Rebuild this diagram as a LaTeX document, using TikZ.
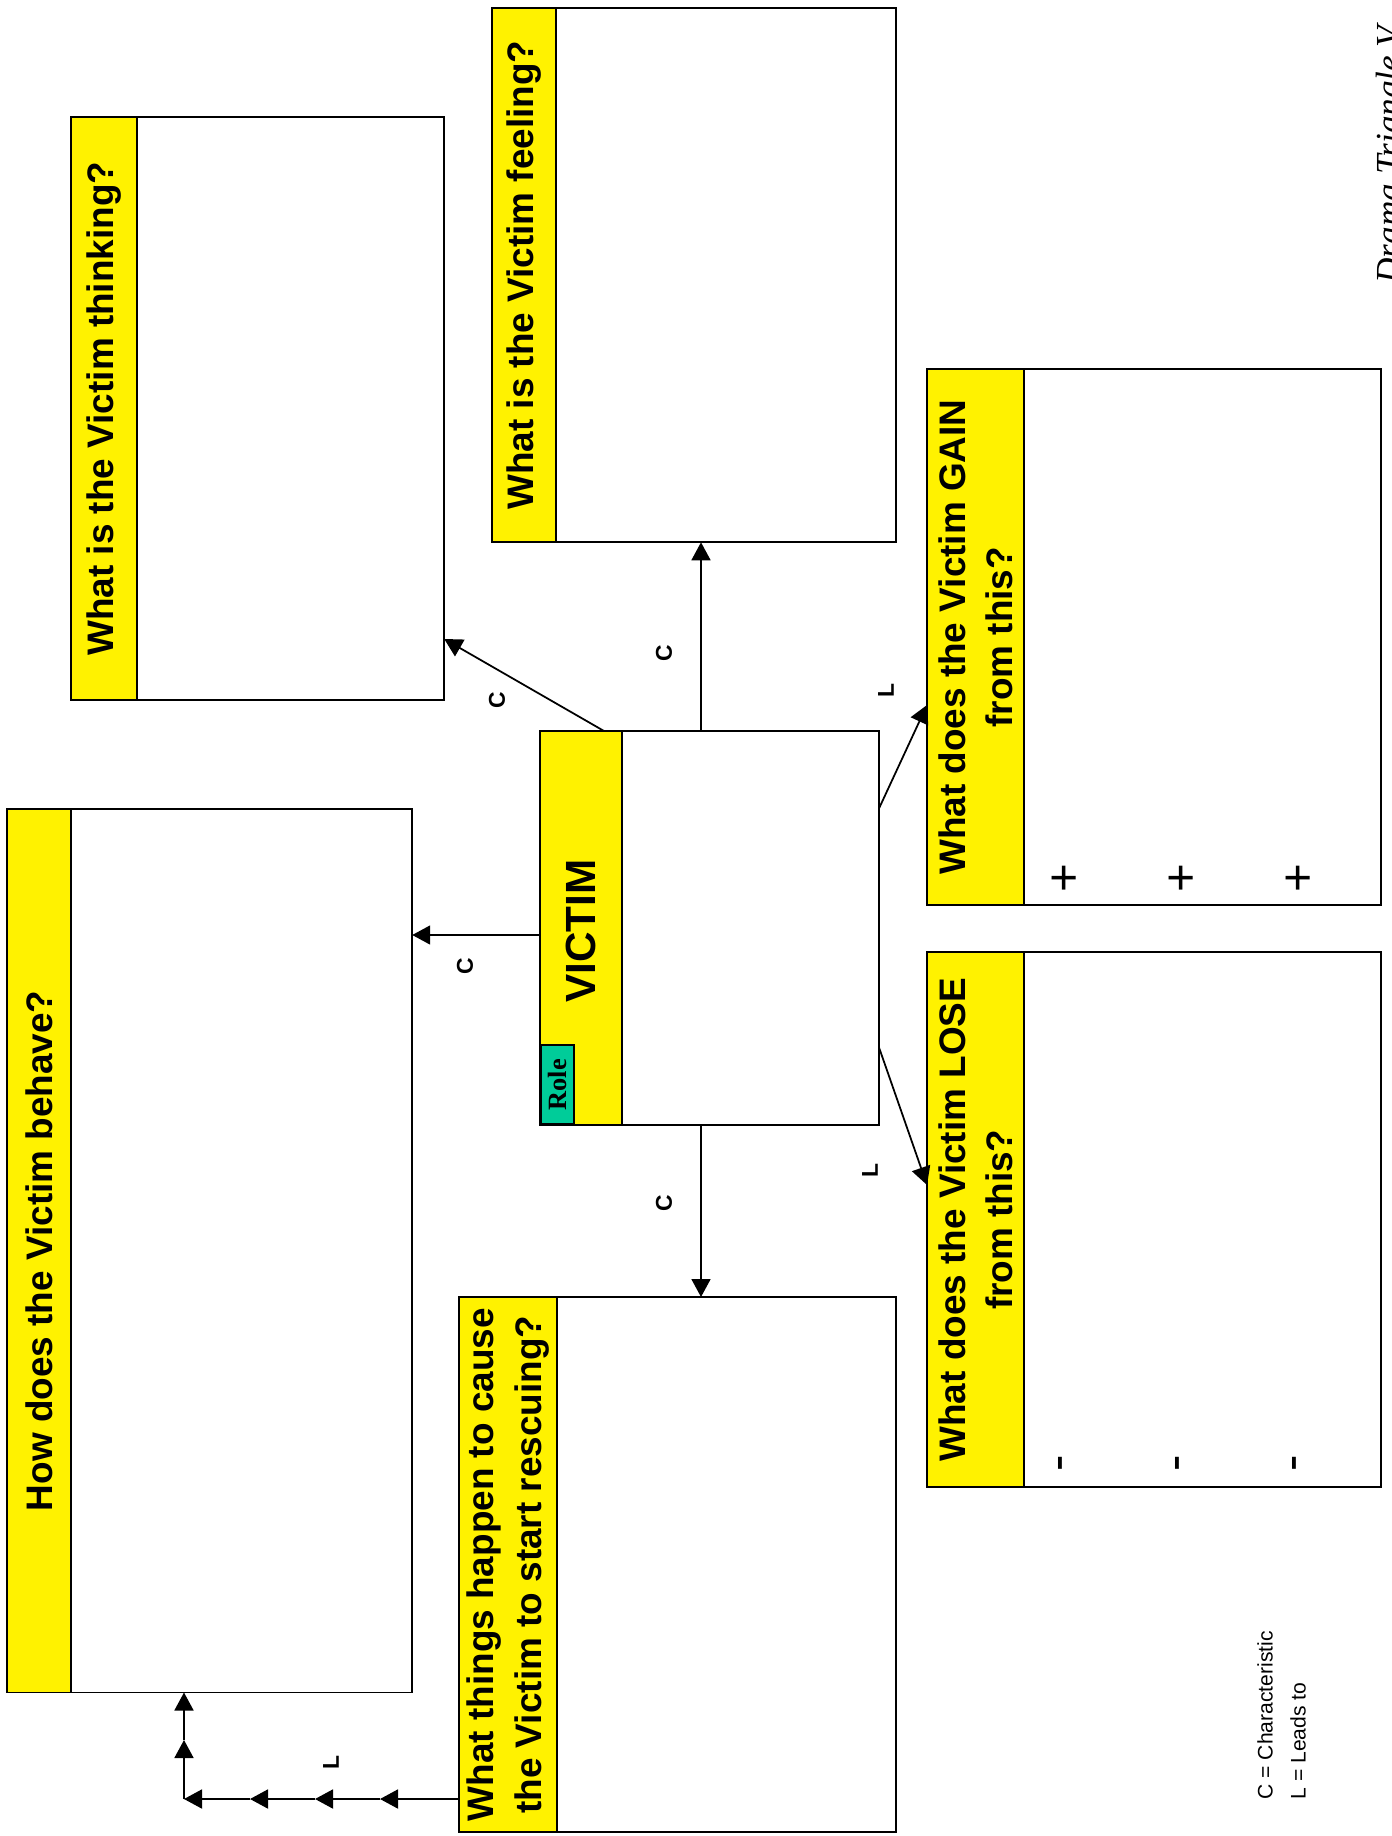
\documentclass[tikz,border=0pt]{standalone}
\usepackage{fontspec}
\setmainfont{Liberation Serif}
\setsansfont{Liberation Sans}
\usetikzlibrary{arrows.meta,calc}

\begin{document}
\begin{tikzpicture}[x=0.01cm, y=-0.01cm, line width=0.5pt,
    box/.style={draw, rectangle, inner sep=0pt, outer sep=0pt, fill=white},
    strip/.style={draw, rectangle, inner sep=0pt, outer sep=0pt, fill=yellow},
    qtext/.style={rotate=90, align=center, font=\sffamily\bfseries\fontsize{10.5}{13.4}\selectfont},
    lbl/.style={rotate=90, font=\sffamily\bfseries\fontsize{6.5}{7}\selectfont},
    sign/.style={rotate=90, font=\sffamily\fontsize{14}{16}\selectfont},
    arr/.style={-{Triangle[length=0.18cm,width=0.19cm]}}]
    \useasboundingbox (0,0) rectangle (1392,1836);
    % header, cut by the page edge
    \node[rotate=90, anchor=base west, font=\itshape\fontsize{10}{12}\selectfont] (head) at (1400,296) {Drama Triangle V};

    % question boxes
    \node[box, minimum width=3.73cm, minimum height=5.83cm, anchor=north west] (think) at (71,117) {};
    \node[strip, minimum width=0.66cm, minimum height=5.83cm, anchor=north west] (thinkS) at (think.north west) {};
    \node[qtext] (thinkQ) at (thinkS.center) {What is the Victim thinking?};

    \node[box, minimum width=4.04cm, minimum height=5.34cm, anchor=north west] (feel) at (492,8) {};
    \node[strip, minimum width=0.64cm, minimum height=5.34cm, anchor=north west] (feelS) at (feel.north west) {};
    \node[qtext] (feelQ) at (feelS.center) {What is the Victim feeling?};

    \node[box, minimum width=4.05cm, minimum height=8.83cm, anchor=north west] (behave) at (7,809) {};
    \node[strip, minimum width=0.64cm, minimum height=8.83cm, anchor=north west] (behaveS) at (behave.north west) {};
    \node[qtext] (behaveQ) at (behaveS.center) {How does the Victim behave?};

    \node[box, minimum width=4.37cm, minimum height=5.35cm, anchor=north west] (rescue) at (459,1297) {};
    \node[strip, minimum width=0.98cm, minimum height=5.35cm, anchor=north west] (rescueS) at (rescue.north west) {};
    \node[qtext] (rescueQ) at (rescueS.center) {What things happen to cause\\the Victim to start rescuing?};

    \node[box, minimum width=4.54cm, minimum height=5.36cm, anchor=north west] (gain) at (927,369) {};
    \node[strip, minimum width=0.97cm, minimum height=5.36cm, anchor=north west] (gainS) at (gain.north west) {};
    \node[qtext] (gainQ) at (gainS.center) {What does the Victim GAIN\\from this?};

    \node[box, minimum width=4.54cm, minimum height=5.35cm, anchor=north west] (lose) at (927,952) {};
    \node[strip, minimum width=0.97cm, minimum height=5.35cm, anchor=north west] (loseS) at (lose.north west) {};
    \node[qtext] (loseQ) at (loseS.center) {What does the Victim LOSE\\from this?};

    \foreach \x in {1066,1183,1300}{
        \node[sign] at (\x,878) {+};
        \node[sign] at (\x,1463) {-};
    }

    % role in the middle
    \node[box, minimum width=3.39cm, minimum height=3.94cm, anchor=north west] (victim) at (540,731) {};
    \node[strip, minimum width=0.82cm, minimum height=3.94cm, anchor=north west] (victimS) at (victim.north west) {};
    \node[rotate=90, font=\sffamily\bfseries\fontsize{12}{14}\selectfont] (victimQ) at ($(victimS.center)+(0,3)$) {VICTIM};
    \node[draw, fill={rgb,255:red,0;green,204;blue,153}, inner sep=0pt, minimum width=0.33cm, minimum height=0.79cm, anchor=south west] (role) at (victim.south west) {};
    \node[rotate=90, font=\bfseries\fontsize{7.5}{9}\selectfont] (roleT) at (role.center) {Role};

    % connectors
    \draw[arr] ($(victim.north west)+(64,0)$) -- ($(think.north east)+(0,522)$);
    \draw[arr] ($(victim.north west)+(161,0)$) -- ($(feel.south west)+(209,0)$);
    \draw[arr] ($(victim.north west)+(0,204)$) -- ($(behave.north east)+(0,126)$);
    \draw[arr] ($(victim.south west)+(161,0)$) -- ($(rescue.north west)+(242,0)$);
    \draw[arr] ($(victim.north east)+(0,77)$) -- ($(gain.north west)+(0,336)$);
    \draw[arr] ($(victim.north east)+(0,317)$) -- ($(lose.north west)+(0,233)$);

    \coordinate (r0) at ($(rescue.north west)+(0,502)$);
    \path (r0) ++(-79,0) coordinate (r1) ++(-65,0) coordinate (r2) ++(-65,0) coordinate (r3)
        ++(-66,0) coordinate (r4) ++(0,-59) coordinate (r5);
    \foreach \a/\b in {r0/r1,r1/r2,r2/r3,r3/r4,r4/r5}
        \draw[arr] (\a) -- (\b);
    \draw[arr] (r5) -- (r5 |- behave.south);

    \node[lbl] (c1) at (497,700) {C};
    \node[lbl] (c2) at (664,653) {C};
    \node[lbl] (c3) at (465,966) {C};
    \node[lbl] (c4) at (664,1203) {C};
    \node[lbl] (l1) at (886,691) {L};
    \node[lbl] (l2) at (870,1171) {L};
    \node[lbl] (l3) at (331,1762) {L};

    % key
    \node[rotate=90, anchor=west, font=\sffamily\fontsize{6}{7}\selectfont] (keyC) at (1265,1812) {C = Characteristic};
    \node[rotate=90, anchor=west, font=\sffamily\fontsize{6}{7}\selectfont] (keyL) at (1298,1812) {L = Leads to};
\end{tikzpicture}
\end{document}
